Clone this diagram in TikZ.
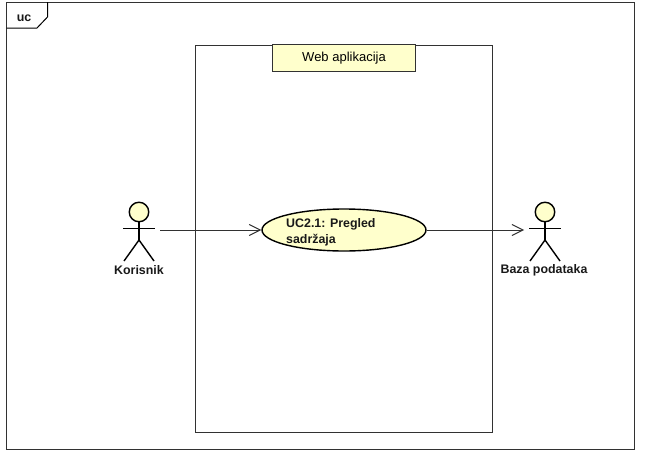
\documentclass[tikz,border=0pt]{standalone}
\usepackage{fontspec}
\setmainfont{Liberation Sans}
\usetikzlibrary{shapes.geometric,arrows.meta}
\definecolor{ucfill}{RGB}{255,255,204}
\definecolor{ucline}{RGB}{50,50,50}
\tikzset{
  x=1pt,y=-1pt,
  linework/.style={draw=ucline,line width=1pt},
  boldline/.style={draw=black,line width=1.4pt},
  lbl/.style={font=\bfseries\fontsize{12.4}{16}\selectfont,inner sep=0pt,text=black!90},
  head/.style={circle,boldline,fill=ucfill,minimum size=19.5pt,inner sep=0pt},
  usecase/.style={ellipse,boldline,fill=ucfill,minimum width=164pt,minimum height=42pt,inner sep=0pt},
  tagbox/.style={rectangle,linework,fill=ucfill,minimum width=143pt,minimum height=27pt,inner sep=0pt,font=\fontsize{13}{16}\selectfont},
  assoc/.style={draw=ucline,line width=1pt,-{Straight Barb[length=11pt,width=11pt]}},
  limb/.style={draw=black,line width=1.4pt},
}
\begin{document}
\begin{tikzpicture}
\useasboundingbox (0,0) rectangle (653,463);
\fill[white] (0,0) rectangle (653,463);
% frame
\draw[linework] (6.5,2) rectangle (634,449);
\draw[draw=black,line width=1pt] (6.5,28) -- (37,28) -- (47.5,17) -- (47.5,2);
\node[lbl] (uclabel) at (24,18) {uc};
% system
\node[draw=ucline,line width=1pt,rectangle,minimum width=297pt,minimum height=387pt,inner sep=0pt] (system) at (343.5,238.5) {};
\node[tagbox] (systag) at (344,58) {\raisebox{-2.7pt}{Web aplikacija}};
% use case
\node[usecase] (uc) at (344,230) {};
\node[lbl,align=left,anchor=west] (uctext) at (286,232.5) {UC2.1: Pregled\\sadržaja};
% left actor
\node[head] (h1) at (139,212) {};
\coordinate (c1) at (139,240);
\draw[limb] (h1.south) -- (c1);
\draw[limb] (123,228.5) -- (154.5,228.5);
\draw[limb] (124,261) -- (c1) -- (154,261);
\node[lbl] (a1) at (139,270) {Korisnik};
% right actor
\node[head] (h2) at (545,212) {};
\coordinate (c2) at (545,240);
\draw[limb] (h2.south) -- (c2);
\draw[limb] (529,228.5) -- (560.5,228.5);
\draw[limb] (530,261) -- (c2) -- (560,261);
\node[lbl] (a2) at (544,270) {Baza podataka};
% connectors
\coordinate (p1) at (160,230);
\coordinate (p2) at (524,230);
\draw[assoc] (p1) -- (uc.west);
\draw[assoc] (uc.east) -- (p2);
\end{tikzpicture}
\end{document}
